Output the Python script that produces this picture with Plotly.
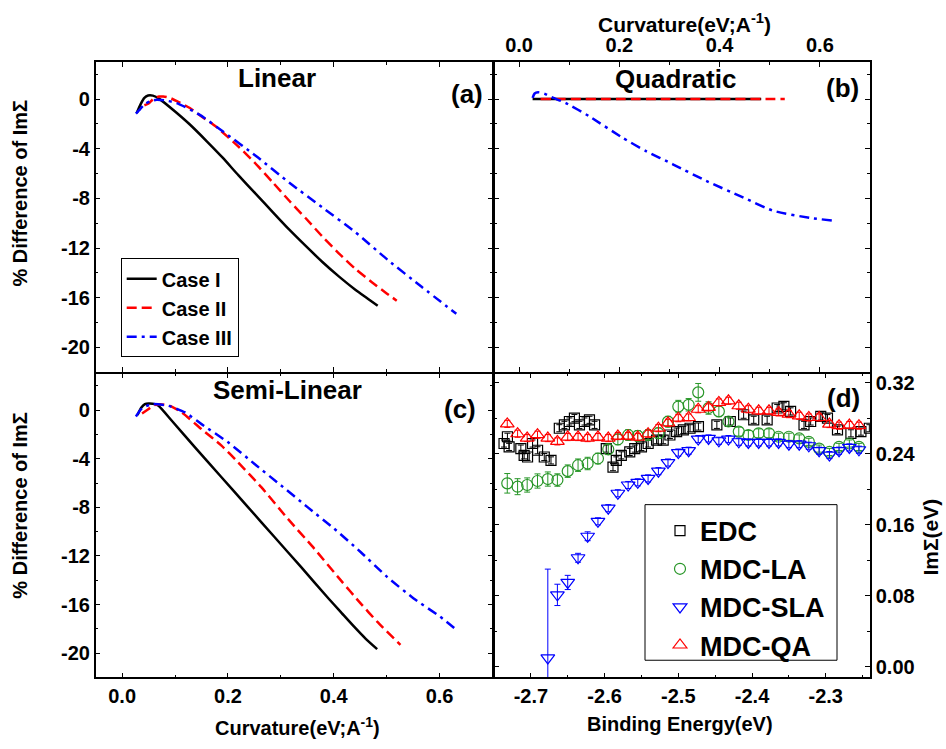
import plotly.graph_objects as go

# ---------------- data ----------------
# Panel (a) Linear
a1_x = [0.0275, 0.035, 0.042, 0.049, 0.058, 0.071, 0.10, 0.128, 0.16, 0.19, 0.22, 0.253, 0.285, 0.3155, 0.345, 0.378, 0.41, 0.4407, 0.465, 0.483]
a1_y = [-1.12, -0.4, 0.1, 0.29, 0.28, 0.0, -1.0, -2.05, -3.4, -4.72, -6.15, -7.65, -9.12, -10.5, -11.75, -13.1, -14.3, -15.35, -16.1, -16.65]
a2_x = [0.042, 0.05, 0.06, 0.07, 0.0776, 0.09, 0.105, 0.128, 0.15, 0.178, 0.2216, 0.25, 0.284, 0.315, 0.347, 0.378, 0.409, 0.44, 0.472, 0.50, 0.519]
a2_y = [-0.5, -0.35, 0.05, 0.2, 0.21, 0.1, -0.2, -0.72, -1.4, -2.24, -3.9, -5.1, -6.68, -8.15, -9.6, -11.05, -12.4, -13.65, -14.75, -15.65, -16.24]
a3_x = [0.026, 0.034, 0.043, 0.055, 0.065, 0.08, 0.103, 0.146, 0.19, 0.253, 0.3155, 0.378, 0.4407, 0.503, 0.566, 0.6316]
a3_y = [-1.17, -0.8, -0.4, -0.15, -0.05, -0.1, -0.32, -1.25, -2.59, -4.59, -6.72, -8.72, -10.72, -12.99, -15.12, -17.3]

# Panel (b) Quadratic
b1_x = [0.027, 0.25, 0.483]
b1_y = [0.0, 0.0, 0.0]
b2_x = [0.043, 0.3, 0.53]
b2_y = [0.0, 0.0, 0.0]
b3_x = [0.027, 0.031, 0.038, 0.05, 0.065, 0.0933, 0.14, 0.2067, 0.2533, 0.3067, 0.3733, 0.4467, 0.5067, 0.58, 0.6267]
b3_y = [0.1, 0.45, 0.55, 0.45, 0.15, -0.32, -1.39, -3.12, -4.19, -5.25, -6.59, -7.92, -8.99, -9.57, -9.79]

# Panel (c) Semi-Linear
c1_x = [0.029, 0.036, 0.043, 0.05, 0.062, 0.0688, 0.0939, 0.1377, 0.1878, 0.2378, 0.2879, 0.338, 0.388, 0.415, 0.438, 0.46, 0.482]
c1_y = [-0.4, 0.2, 0.5, 0.55, 0.5, 0.36, -0.87, -3.06, -5.52, -7.98, -10.44, -12.9, -15.4, -16.7, -17.8, -18.8, -19.67]
c2_x = [0.0376, 0.05, 0.06, 0.072, 0.09, 0.1127, 0.150, 0.1878, 0.219, 0.263, 0.313, 0.363, 0.413, 0.4507, 0.482, 0.526]
c2_y = [-0.27, 0.1, 0.4, 0.49, 0.35, -0.19, -1.56, -2.92, -4.29, -6.34, -8.93, -11.39, -13.99, -15.9, -17.4, -19.32]
c3_x = [0.026, 0.0376, 0.0563, 0.0876, 0.119, 0.150, 0.2003, 0.2503, 0.3005, 0.3504, 0.4006, 0.4507, 0.5007, 0.551, 0.601, 0.632]
c3_y = [-0.52, 0.16, 0.49, 0.36, -0.19, -1.15, -2.65, -4.43, -6.2, -7.98, -9.75, -11.67, -13.72, -15.49, -17.0, -18.09]

case_names = ["Case I", "Case II", "Case III"]

# Panel (d) Im Sigma vs binding energy
mdc_x = [-2.732, -2.718, -2.705, -2.691, -2.677, -2.664, -2.650, -2.636, -2.623, -2.609, -2.595, -2.582,
         -2.568, -2.555, -2.541, -2.527, -2.514, -2.500, -2.486, -2.473, -2.459, -2.445, -2.432, -2.418,
         -2.405, -2.391, -2.377, -2.364, -2.350, -2.336, -2.323, -2.309, -2.295, -2.282, -2.268, -2.255]
qa_y = [0.2735, 0.2624, 0.2575, 0.2613, 0.2575, 0.2538, 0.2587, 0.2587, 0.2575, 0.2587, 0.2575, 0.2598,
        0.2598, 0.2587, 0.2624, 0.2687, 0.2747, 0.2799, 0.2807, 0.2900, 0.2920, 0.2976, 0.2995, 0.2939,
        0.2900, 0.2882, 0.2882, 0.2864, 0.2845, 0.2826, 0.2807, 0.2807, 0.2733, 0.2715, 0.2722, 0.2715]
qa_err = [0.004] * 36
la_y = [0.2066, 0.2028, 0.2047, 0.2092, 0.2114, 0.2103, 0.2203, 0.2270, 0.2289, 0.2345, 0.2449, 0.2560,
        0.2610, 0.2600, 0.2610, 0.2630, 0.2760, 0.2930, 0.2950, 0.3090, 0.2914, 0.2876, 0.2762, 0.2648,
        0.2610, 0.2629, 0.2629, 0.2590, 0.2590, 0.2571, 0.2533, 0.2457, 0.2419, 0.2476, 0.2514, 0.2476]
la_err = [0.011, 0.009, 0.008, 0.008, 0.008, 0.007, 0.007, 0.007, 0.007, 0.006, 0.006, 0.006,
          0.006, 0.006, 0.006, 0.006, 0.006, 0.007, 0.007, 0.010, 0.007, 0.006, 0.005, 0.005,
          0.005, 0.005, 0.005, 0.004, 0.004, 0.004, 0.004, 0.004, 0.004, 0.004, 0.004, 0.004]
sla_x = mdc_x[4:]
sla_y = [0.010, 0.081, 0.095, 0.1228, 0.147, 0.1638, 0.1786, 0.1954, 0.2047, 0.2077, 0.2121, 0.2203,
         0.2300, 0.2412, 0.2433, 0.2564, 0.2571, 0.2545, 0.2564, 0.2534, 0.2526, 0.2526, 0.2526, 0.2526,
         0.2507, 0.2507, 0.2489, 0.2433, 0.2384, 0.2433, 0.2470, 0.2444]
sla_err = [0.100, 0.012, 0.008, 0.005, 0.005, 0.004, 0.004, 0.004, 0.004, 0.004, 0.004, 0.004,
           0.004, 0.004, 0.004, 0.004, 0.004, 0.004, 0.004, 0.004, 0.004, 0.004, 0.004, 0.004,
           0.004, 0.004, 0.004, 0.004, 0.004, 0.004, 0.004, 0.004]
edc_x = [-2.7364, -2.7318, -2.7295, -2.7136, -2.7091, -2.7045, -2.6977, -2.6909, -2.6818, -2.6727,
         -2.6614, -2.6545, -2.6477, -2.6409, -2.6341, -2.6273, -2.6205, -2.6136, -2.5977, -2.5886,
         -2.5841, -2.5773, -2.5659, -2.5591, -2.5500, -2.5409, -2.5295, -2.5205, -2.5114, -2.5023,
         -2.4932, -2.4841, -2.4727, -2.4477, -2.4295, -2.4114, -2.3977, -2.3795, -2.3659, -2.3568,
         -2.3477, -2.3295, -2.3205, -2.3068, -2.2977, -2.2841, -2.2659, -2.2523, -2.2409]
edc_y = [0.2514, 0.2590, 0.2476, 0.2457, 0.2381, 0.2362, 0.2514, 0.2438, 0.2362, 0.2324,
         0.2686, 0.2724, 0.2762, 0.2800, 0.2724, 0.2762, 0.2781, 0.2724, 0.2457, 0.2248,
         0.2324, 0.2381, 0.2419, 0.2457, 0.2476, 0.2514, 0.2552, 0.2552, 0.2610, 0.2648,
         0.2667, 0.2686, 0.2705, 0.2724, 0.2762, 0.2838, 0.2781, 0.2781, 0.2914, 0.2933,
         0.2876, 0.2724, 0.2762, 0.2819, 0.2800, 0.2667, 0.2629, 0.2648, 0.2686]
edc_err = [0.004] * len(edc_x)

series_names_d = ["EDC", "MDC-LA", "MDC-SLA", "MDC-QA"]

# tick labels
diff_tickvals = [0, -4, -8, -12, -16, -20]
diff_ticktext = ["0", "-4", "-8", "-12", "-16", "-20"]
curv_tickvals = [0.0, 0.2, 0.4, 0.6]
curv_ticktext = ["0.0", "0.2", "0.4", "0.6"]
be_tickvals = [-2.7, -2.6, -2.5, -2.4, -2.3]
be_ticktext = ["-2.7", "-2.6", "-2.5", "-2.4", "-2.3"]
im_tickvals = [0.0, 0.08, 0.16, 0.24, 0.32]
im_ticktext = ["0.00", "0.08", "0.16", "0.24", "0.32"]

# ---------------- figure ----------------
W, H = 946, 749
FONT = "Liberation Sans, Arial, Helvetica, sans-serif"
LW = 1.5

def fx(p):
    return p / W

def fy(p):
    return 1 - p / H

XL = [fx(95.7), fx(494 - LW)]
XR = [fx(494), fx(870)]
YT = [fy(372.7 - LW), fy(60)]
YB = [fy(677.3), fy(372.7)]

fig = go.Figure()

line_styles = [
    dict(color="black", width=2.5, dash="solid"),
    dict(color="red", width=2.5, dash="10px,5px"),
    dict(color="blue", width=2.5, dash="10px,5px,3px,5px"),
]

panels = [
    ("x", "y", [(a1_x, a1_y), (a2_x, a2_y), (a3_x, a3_y)], True),
    ("x2", "y2", [(b1_x, b1_y), (b2_x, b2_y), (b3_x, b3_y)], False),
    ("x3", "y3", [(c1_x, c1_y), (c2_x, c2_y), (c3_x, c3_y)], False),
]
for xa, ya, curves, show in panels:
    for k, (xs, ys) in enumerate(curves):
        fig.add_trace(go.Scatter(
            x=xs, y=ys, mode="lines", name=case_names[k],
            line=dict(shape="spline", smoothing=0.6, **line_styles[k]),
            xaxis=xa, yaxis=ya, showlegend=show, legend="legend",
        ))

green = "rgb(40,150,40)"
d_specs = [
    (edc_x, edc_y, edc_err, "square-open", "black", 10),
    (mdc_x, la_y, la_err, "circle-open", green, 11),
    (sla_x, sla_y, sla_err, "triangle-down-open", "blue", 12),
    (mdc_x, qa_y, qa_err, "triangle-up-open", "red", 12),
]
for k, (xs, ys, es, sym, col, sz) in enumerate(d_specs):
    fig.add_trace(go.Scatter(
        x=xs, y=ys, mode="markers", name=series_names_d[k],
        marker=dict(symbol=sym, size=sz, color=col, line=dict(width=1.2, color=col)),
        error_y=dict(type="data", array=es, color=col, thickness=1, width=3),
        xaxis="x4", yaxis="y4", legend="legend2",
    ))

tickfont = dict(family=FONT, size=20, color="black", weight="bold")
base = dict(showline=True, linecolor="black", linewidth=LW, mirror="allticks",
            ticks="inside", ticklen=5, tickwidth=1.2, tickcolor="black",
            showgrid=False, zeroline=False, tickfont=tickfont)

def minor(dt):
    return dict(ticks="inside", ticklen=3, tickwidth=1, tickcolor="black", dtick=dt)

xr_curv = [-0.05, 0.7]
yr_diff = [-22, 3]

fig.update_layout(
    xaxis=dict(domain=XL, anchor="y", range=xr_curv, tickvals=curv_tickvals, ticktext=curv_ticktext,
               showticklabels=False, minor=minor(0.1), **base),
    yaxis=dict(domain=YT, anchor="x", range=yr_diff, tickvals=diff_tickvals, ticktext=diff_ticktext,
               minor=minor(2), **base),
    xaxis2=dict(domain=XR, anchor="y2", range=xr_curv, side="top", tickvals=curv_tickvals,
                ticktext=curv_ticktext, minor=minor(0.1), **base),
    yaxis2=dict(domain=YT, anchor="x2", range=yr_diff, tickvals=diff_tickvals, ticktext=diff_ticktext,
                showticklabels=False, minor=minor(2), **base),
    xaxis3=dict(domain=XL, anchor="y3", range=xr_curv, tickvals=curv_tickvals, ticktext=curv_ticktext,
                minor=minor(0.1), **base),
    yaxis3=dict(domain=YB, anchor="x3", range=yr_diff, tickvals=diff_tickvals, ticktext=diff_ticktext,
                minor=minor(2), **base),
    xaxis4=dict(domain=XR, anchor="y4", range=[-2.75, -2.24], tickvals=be_tickvals, ticktext=be_ticktext,
                minor=minor(0.05), **base),
    yaxis4=dict(domain=YB, anchor="x4", range=[-0.012, 0.330], side="right", tickvals=im_tickvals,
                ticktext=im_ticktext, minor=minor(0.04), **base),
)

fig.update_layout(
    width=W, height=H,
    margin=dict(l=0, r=0, t=0, b=0),
    paper_bgcolor="white", plot_bgcolor="white",
    font=dict(family=FONT, color="black", weight="bold"),
    legend=dict(x=fx(120.7), y=fy(257), xanchor="left", yanchor="top",
                bgcolor="white", bordercolor="black", borderwidth=1,
                font=dict(family=FONT, size=20, color="black", weight="bold"),
                tracegroupgap=0, itemwidth=30),
    legend2=dict(x=fx(660), y=fy(506), xanchor="left", yanchor="top",
                 bgcolor="rgba(0,0,0,0)", borderwidth=0,
                 font=dict(family=FONT, size=27, color="black", weight="bold"),
                 tracegroupgap=0, itemwidth=30),
    showlegend=True,
)

# frame of the (d) legend
fig.add_shape(type="rect", xref="paper", yref="paper",
              x0=fx(645), x1=fx(837), y0=fy(660), y1=fy(504),
              line=dict(color="black", width=1), fillcolor="white", layer="above")

def ann(text, px, py, size, angle=0, xanchor="center"):
    fig.add_annotation(text=text, x=fx(px), y=fy(py), xref="paper", yref="paper",
                       showarrow=False, textangle=angle, xanchor=xanchor, yanchor="middle",
                       font=dict(family=FONT, size=size, color="black", weight="bold"))

ann("Linear", 277, 76, 26)
ann("(a)", 467, 92, 26)
ann("Quadratic", 675, 77, 26)
ann("(b)", 842, 86, 26)
ann("Semi-Linear", 287, 389, 26)
ann("(c)", 460, 408, 26)
ann("(d)", 843, 397, 26)
ann("% Difference of ImΣ", 20, 192, 20, angle=-90)
ann("% Difference of ImΣ", 20, 505, 20, angle=-90)
ann("ImΣ(eV)", 931, 537, 21, angle=-90)
ann("Curvature(eV;A<sup>-1</sup>)", 684, 21, 21)
ann("Curvature(eV;A<sup>-1</sup>)", 297, 726, 20)
ann("Binding Energy(eV)", 680, 724, 20)

fig.write_html("out.html")
